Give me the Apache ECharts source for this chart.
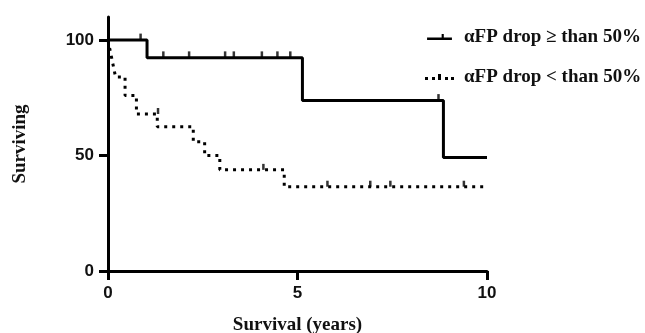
<!DOCTYPE html>
<html><head><meta charset="utf-8">
<script src="https://cdn.jsdelivr.net/npm/echarts@6/dist/echarts.min.js"></script>
<style>html,body{margin:0;padding:0;background:#fff}#c{width:645px;height:333px}</style>
</head><body><div id="c"></div>
<script>
// Data (years, % surviving)
var seriesNames = ['αFP drop ≥ than 50%', 'αFP drop < than 50%'];
var highDropTimes = [0, 1.03, 5.13, 8.85, 10];
var highDropSurv  = [100, 92.3, 73.8, 49.2, 49.2];
var highCensorTimes = [0.86, 1.46, 2.14, 3.09, 3.32, 4.06, 4.47, 4.81, 8.72];
var highCensorSurv  = [100, 92.3, 92.3, 92.3, 92.3, 92.3, 92.3, 92.3, 73.8];
var lowDropTimes = [0, 0.05, 0.1, 0.15, 0.2, 0.45, 0.75, 1.3, 2.25, 2.55, 2.95, 4.65, 10];
var lowDropSurv  = [100, 96, 92, 88, 84, 76, 68, 62.5, 56, 50, 43.8, 36.5, 36.5];
var lowCensorTimes = [1.32, 4.1, 5.79, 6.92, 7.45, 9.39];
var lowCensorSurv  = [68, 43.8, 36.5, 36.5, 36.5, 36.5];
var xTicks = [0, 5, 10];
var yTicks = [0, 50, 100];

function pairs(a, b){ return a.map(function(v,i){ return [v, b[i]]; }); }

var chart = echarts.init(document.getElementById('c'));
var sansB = 'Liberation Sans, Arial, sans-serif';
var serifB = 'Liberation Serif, Times New Roman, serif';
var tickFont = {fontFamily:sansB, fontWeight:'bold', fontSize:17, color:'#111'};
chart.setOption({
  animation:false,
  grid:{left:108, right:158, top:17, bottom:62, containLabel:false, outerBoundsMode:'none'},
  legend:{
    orient:'vertical', left:420, top:22, itemGap:20, itemWidth:29, itemHeight:6,
    data:[
      {name:seriesNames[0], icon:'path://M0,4L29,4L29,7L0,7Z M17,0L19.5,0L19.5,4L17,4Z'},
      {name:seriesNames[1], icon:'path://M0,3h3v3h-3z M7,3h3v3h-3z M13,0h3v6h-3z M20,3h3v3h-3z M26,3h3v3h-3z'}
    ],
    itemStyle:{color:'#000'},
    textStyle:{fontFamily:serifB, fontWeight:'bold', fontSize:19, lineHeight:20, color:'#111', padding:[0,0,0,5]}
  },
  xAxis:{
    type:'value', min:0, max:10, interval:5,
    axisLine:{lineStyle:{color:'#000', width:3}},
    axisTick:{length:9, lineStyle:{width:3, color:'#000'}},
    axisLabel:Object.assign({margin:14, customValues:xTicks}, tickFont),
    splitLine:{show:false},
    name:'Survival (years)', nameLocation:'middle', nameGap:45,
    nameTextStyle:{fontFamily:serifB, fontWeight:'bold', fontSize:19, color:'#111'}
  },
  yAxis:{
    type:'value', min:0, max:110, interval:50,
    axisLine:{show:true, lineStyle:{color:'#000', width:3}},
    axisTick:{show:true, length:9, customValues:yTicks, lineStyle:{width:3, color:'#000'}},
    axisLabel:Object.assign({margin:14, customValues:yTicks}, tickFont),
    splitLine:{show:false},
    name:'Surviving', nameLocation:'middle', nameGap:78,
    nameTextStyle:{fontFamily:serifB, fontWeight:'bold', fontSize:19, color:'#111'}
  },
  series:[
    {name:seriesNames[0], type:'line', step:'end', showSymbol:false, symbol:'none',
     data:pairs(highDropTimes, highDropSurv),
     lineStyle:{color:'#000', width:3}, itemStyle:{color:'#000'}},
    {name:seriesNames[1], type:'line', step:'end', showSymbol:false, symbol:'none',
     data:pairs(lowDropTimes, lowDropSurv),
     lineStyle:{color:'#000', width:3, type:[3,5], cap:'butt'}, itemStyle:{color:'#000'}},
    {type:'scatter', symbol:'rect', symbolSize:[2.5,7], symbolOffset:[0,-3],
     data:pairs(highCensorTimes, highCensorSurv), itemStyle:{color:'#000'}, silent:true},
    {type:'scatter', symbol:'rect', symbolSize:[2.5,6], symbolOffset:[0,-3],
     data:pairs(lowCensorTimes, lowCensorSurv), itemStyle:{color:'#000'}, silent:true}
  ]
});
</script></body></html>
